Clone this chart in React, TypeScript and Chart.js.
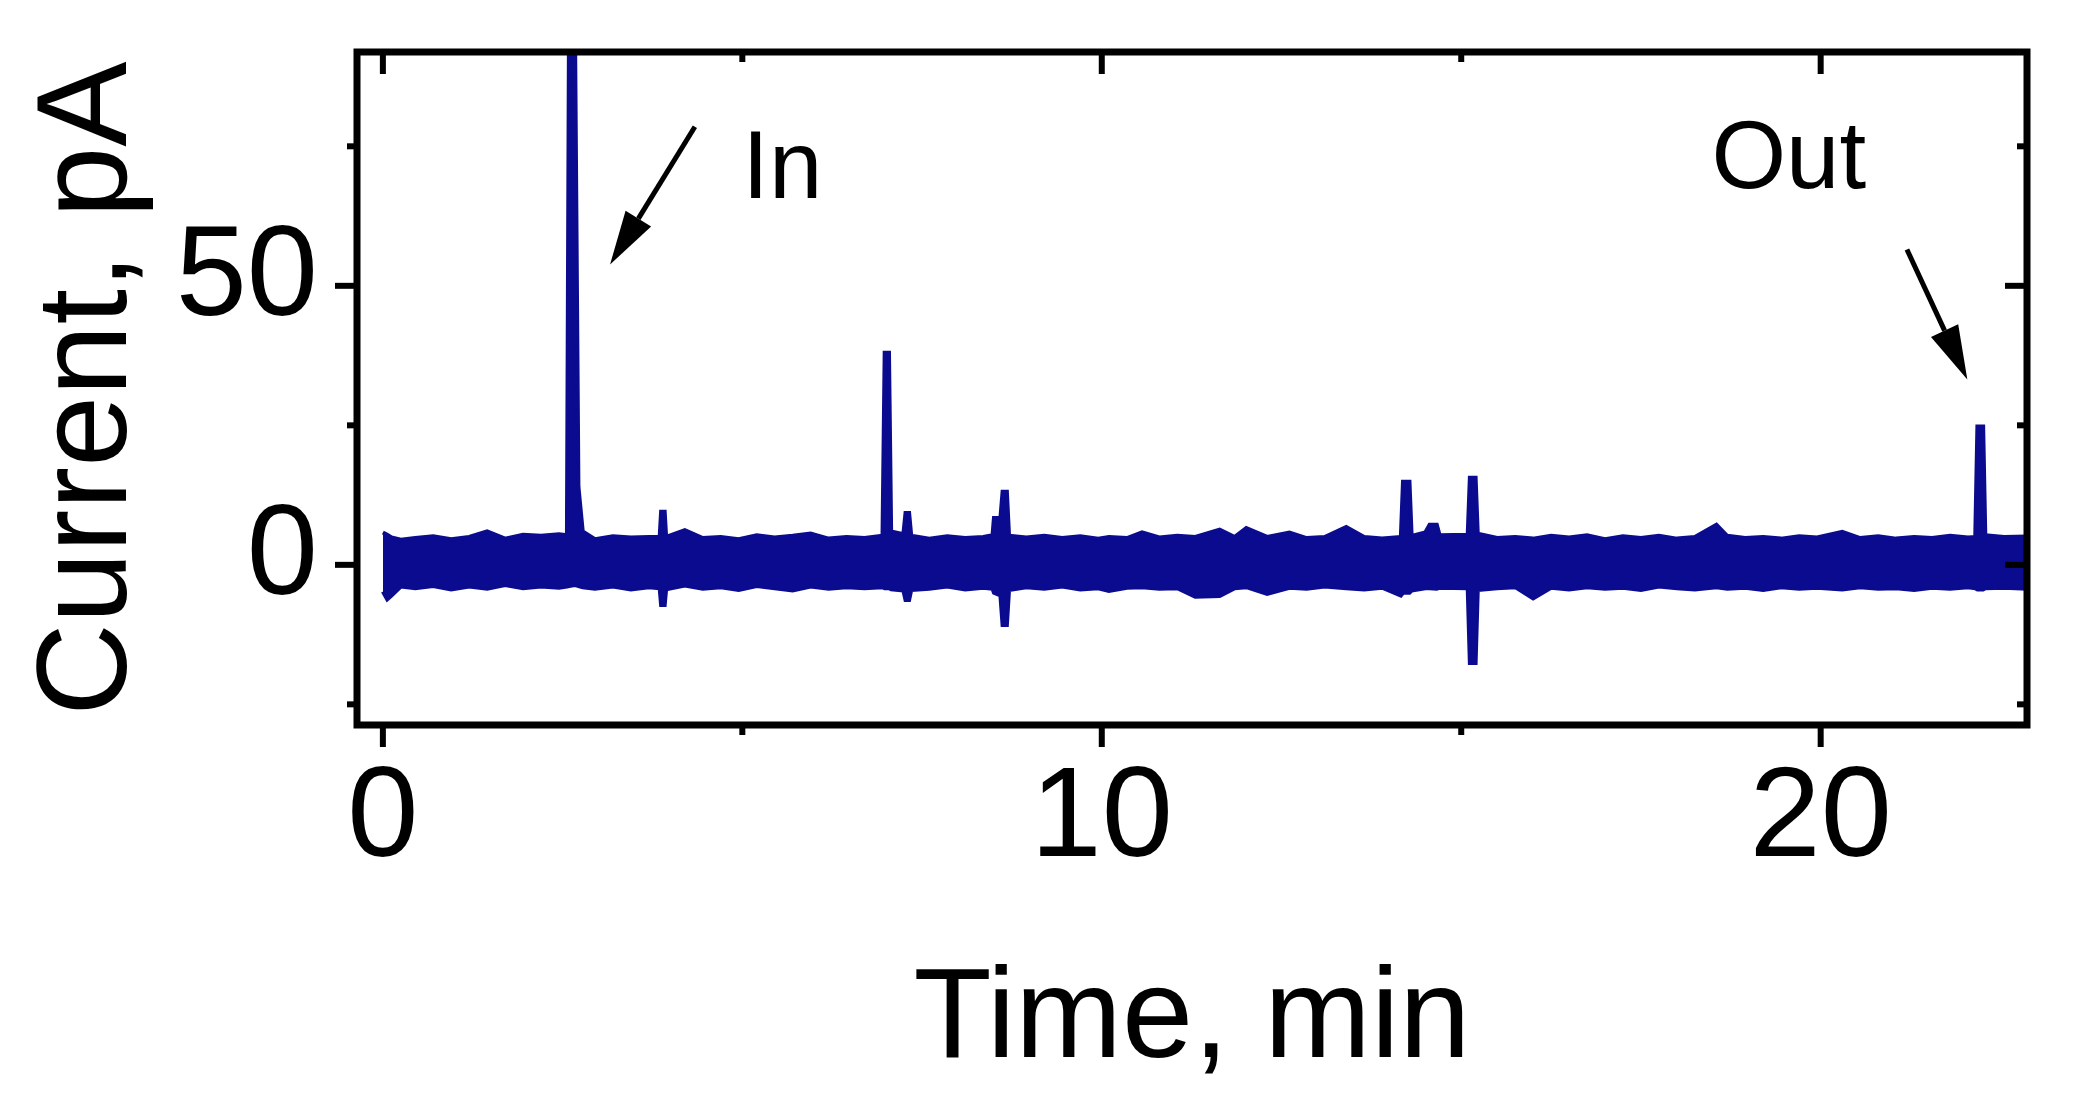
import React, { useEffect, useRef } from "react";
import { Chart, registerables } from "chart.js";

Chart.register(...registerables);

// ---- data ----
// time in minutes, noise-band upper envelope and lower envelope in pA
const timeMin = [
  0.0, 0.06, 0.12, 0.25, 0.45, 0.7, 0.95, 1.2, 1.45, 1.7, 1.95, 2.2, 2.45, 2.56, 2.59, 2.67, 2.72, 2.78,
  2.95, 3.2, 3.45, 3.7, 3.85, 3.87, 3.92, 3.94, 4.2, 4.45, 4.7, 4.95, 5.2, 5.45, 5.7, 5.95, 6.2, 6.45,
  6.7, 6.95, 6.98, 7.04, 7.07, 7.24, 7.27, 7.32, 7.35, 7.6, 7.85, 8.1, 8.35, 8.48, 8.5, 8.59, 8.62, 8.68,
  8.71, 8.95, 9.2, 9.45, 9.7, 9.95, 10.1, 10.35, 10.56, 10.8, 11.05, 11.3, 11.64, 11.85, 12.01, 12.3,
  12.61, 12.85, 13.1, 13.4, 13.65, 13.9, 14.16, 14.19, 14.28, 14.31, 14.5, 14.56, 14.66, 14.7, 15.09,
  15.12, 15.2, 15.23, 15.5, 15.75, 16.0, 16.25, 16.5, 16.75, 17.0, 17.25, 17.5, 17.75, 18.0, 18.25,
  18.55, 18.7, 18.95, 19.2, 19.45, 19.7, 19.95, 20.3, 20.55, 20.8, 21.05, 21.3, 21.55, 21.8, 22.05,
  22.15, 22.18, 22.26, 22.29, 22.55, 22.9,
];
const upperPA = [
  5.8, 5.4, 4.9, 4.5, 4.8, 5.1, 4.6, 5.0, 6.0, 4.7, 5.4, 5.2, 5.5, 5.3, 100, 100, 14, 6.0,
  4.6, 5.1, 4.9, 5.0, 5.0, 9.5, 9.5, 5.0, 6.2, 4.8, 5.0, 4.6, 5.3, 4.9, 5.2, 5.6, 4.7, 5.0,
  4.8, 5.2, 38, 38, 6.0, 5.5, 9.3, 9.3, 5.2, 4.7, 5.1, 4.8, 5.0, 5.3, 8.4, 8.4, 13.1, 13.1,
  5.2, 4.9, 5.2, 4.8, 5.1, 4.7, 5.0, 4.8, 5.8, 4.9, 5.2, 5.0, 6.3, 5.0, 6.6, 5.0,
  5.8, 4.8, 5.0, 6.8, 5.0, 4.7, 5.0, 14.9, 14.9, 5.2, 5.8, 7.2, 7.2, 5.3, 5.4,
  15.6, 15.6, 5.6, 4.8, 5.0, 4.7, 5.2, 4.9, 5.3, 4.6, 5.1, 4.8, 5.2, 4.7, 5.0,
  7.2, 5.2, 4.8, 5.0, 4.7, 5.1, 4.9, 5.9, 4.8, 5.1, 4.7, 5.0, 4.8, 5.2, 4.9,
  5.0, 24.8, 24.8, 5.3, 5.0, 5.1,
];
const lowerPA = [
  -4.8, -6.2, -5.5, -3.9, -4.2, -3.8, -4.4, -3.9, -4.3, -3.6, -4.2, -3.9, -4.1, -3.9, -3.8, -3.6, -3.8, -4.0,
  -4.3, -3.9, -4.4, -4.0, -4.2, -7.2, -7.2, -4.4, -3.7, -4.3, -4.0, -4.5, -3.8, -4.2, -4.6, -3.9, -4.3, -4.0,
  -4.2, -4.0, -4.2, -4.2, -4.4, -4.6, -6.3, -6.3, -4.5, -4.3, -3.9, -4.4, -4.1, -4.3, -5.0, -5.5, -10.8, -10.8,
  -4.5, -4.0, -4.3, -3.9, -4.4, -4.2, -4.7, -4.1, -4.0, -4.3, -4.2, -5.7, -5.6, -4.2, -4.0, -5.2,
  -4.1, -4.3, -3.9, -4.2, -4.4, -4.1, -5.5, -5.0, -5.0, -4.6, -4.2, -4.2, -4.3, -4.1, -4.2,
  -17.6, -17.6, -4.5, -4.2, -4.0, -6.0, -4.1, -4.4, -4.0, -4.3, -4.1, -4.5, -3.9, -4.2, -4.4,
  -4.0, -4.3, -4.1, -4.5, -4.0, -4.3, -4.1, -4.4, -4.0, -4.3, -4.2, -4.5, -4.1, -4.3, -4.0,
  -4.2, -4.4, -4.4, -4.2, -4.1, -4.3,
];

// axis ticks
const xMajorTicks = [0, 10, 20];
const xMinorTicks = [5, 15];
const yMajorTicks = [0, 50];
const yMinorTicks = [-25, 25, 75];
const xRange = [-0.36, 22.87];
const yRange = [-28.7, 91.9];

// annotations: label, text anchor (min, pA), arrow tail and tip (min, pA)
const annotLabels = ["In", "Out"];
const annotTextPos = [
  [5.0, 65.8],
  [18.48, 67.6],
];
const arrowTails = [
  [4.34, 78.5],
  [21.2, 56.5],
];
const arrowTips = [
  [3.16, 53.8],
  [22.04, 33.2],
];

const FONT = "'Liberation Sans', Arial, Helvetica, sans-serif";
const TRACE = "#0b0b8f";

const framePlugin = {
  id: "frameTicks",
  afterDatasetsDraw(chart: any) {
    const { ctx, chartArea: a, scales } = chart;
    const xs = scales.x;
    const ys = scales.y;
    ctx.save();
    ctx.strokeStyle = "#000";
    ctx.lineWidth = 7;
    ctx.strokeRect(a.left, a.top, a.right - a.left, a.bottom - a.top);
    ctx.lineWidth = 6;
    const seg = (x1: number, y1: number, x2: number, y2: number) => {
      ctx.beginPath();
      ctx.moveTo(x1, y1);
      ctx.lineTo(x2, y2);
      ctx.stroke();
    };
    const MAJ = 22;
    const MIN = 10;
    xMajorTicks.forEach((v) => {
      const p = xs.getPixelForValue(v);
      seg(p, a.bottom, p, a.bottom + MAJ);
      seg(p, a.top, p, a.top + MAJ);
    });
    xMinorTicks.forEach((v) => {
      const p = xs.getPixelForValue(v);
      seg(p, a.bottom, p, a.bottom + MIN);
      seg(p, a.top, p, a.top + MIN);
    });
    yMajorTicks.forEach((v) => {
      const p = ys.getPixelForValue(v);
      seg(a.left, p, a.left - MAJ, p);
      seg(a.right, p, a.right - MAJ, p);
    });
    yMinorTicks.forEach((v) => {
      const p = ys.getPixelForValue(v);
      seg(a.left, p, a.left - MIN, p);
      seg(a.right, p, a.right - MIN, p);
    });
    ctx.restore();
  },
  afterDraw(chart: any) {
    const { ctx, scales } = chart;
    const xs = scales.x;
    const ys = scales.y;
    ctx.save();
    ctx.fillStyle = "#000";
    ctx.strokeStyle = "#000";
    ctx.font = `96px ${FONT}`;
    ctx.textBaseline = "alphabetic";
    ctx.textAlign = "left";
    annotLabels.forEach((lab, i) => {
      ctx.fillText(lab, xs.getPixelForValue(annotTextPos[i][0]), ys.getPixelForValue(annotTextPos[i][1]));
      const x1 = xs.getPixelForValue(arrowTails[i][0]);
      const y1 = ys.getPixelForValue(arrowTails[i][1]);
      const x2 = xs.getPixelForValue(arrowTips[i][0]);
      const y2 = ys.getPixelForValue(arrowTips[i][1]);
      const ang = Math.atan2(y2 - y1, x2 - x1);
      const headLen = 54;
      const headHalf = 15;
      const bx = x2 - headLen * Math.cos(ang);
      const by = y2 - headLen * Math.sin(ang);
      ctx.lineWidth = 5;
      ctx.beginPath();
      ctx.moveTo(x1, y1);
      ctx.lineTo(bx, by);
      ctx.stroke();
      ctx.beginPath();
      ctx.moveTo(x2, y2);
      ctx.lineTo(bx + headHalf * Math.sin(ang), by - headHalf * Math.cos(ang));
      ctx.lineTo(bx - headHalf * Math.sin(ang), by + headHalf * Math.cos(ang));
      ctx.closePath();
      ctx.fill();
    });
    ctx.restore();
  },
};

export default function App() {
  const ref = useRef<HTMLCanvasElement | null>(null);
  useEffect(() => {
    if (!ref.current) return;
    const chart = new Chart(ref.current, {
      type: "line",
      data: {
        datasets: [
          {
            label: "upper",
            data: timeMin.map((t, i) => ({ x: t, y: upperPA[i] })),
            borderColor: TRACE,
            backgroundColor: TRACE,
            borderWidth: 4,
            pointRadius: 0,
            tension: 0,
            fill: "+1",
          },
          {
            label: "lower",
            data: timeMin.map((t, i) => ({ x: t, y: lowerPA[i] })),
            borderColor: TRACE,
            backgroundColor: TRACE,
            borderWidth: 4,
            pointRadius: 0,
            tension: 0,
            fill: false,
          },
        ],
      },
      options: {
        responsive: false,
        animation: false,
        devicePixelRatio: 1,
        layout: { padding: { left: 0, top: 52, right: 46, bottom: 0 } },
        plugins: { legend: { display: false }, tooltip: { enabled: false } },
        scales: {
          x: {
            type: "linear",
            min: xRange[0],
            max: xRange[1],
            grid: { display: false, drawTicks: false },
            border: { display: false },
            afterBuildTicks: (s: any) => {
              s.ticks = xMajorTicks.map((value) => ({ value }));
            },
            afterFit: (s: any) => {
              s.height = 1106 - 725;
              s.paddingLeft = 0;
              s.paddingRight = 0;
            },
            ticks: {
              color: "#000",
              font: { family: FONT, size: 128 },
              padding: 19,
              maxRotation: 0,
              autoSkip: false,
              includeBounds: false,
            },
            title: {
              display: true,
              text: "Time, min",
              color: "#000",
              font: { family: FONT, size: 128 },
              padding: { top: 0, bottom: 7 },
            },
          },
          y: {
            type: "linear",
            min: yRange[0],
            max: yRange[1],
            grid: { display: false, drawTicks: false },
            border: { display: false },
            afterBuildTicks: (s: any) => {
              s.ticks = yMajorTicks.map((value) => ({ value }));
            },
            afterFit: (s: any) => {
              s.width = 357;
              s.paddingTop = 0;
              s.paddingBottom = 0;
            },
            ticks: {
              color: "#000",
              font: { family: FONT, size: 128 },
              padding: 39,
              labelOffset: -6,
              autoSkip: false,
              includeBounds: false,
            },
            title: {
              display: true,
              text: "Current, pA",
              color: "#000",
              font: { family: FONT, size: 128 },
              padding: { top: 14, bottom: 0 },
            },
          },
        },
      },
      plugins: [framePlugin],
    } as any);
    return () => chart.destroy();
  }, []);
  return (
    <div style={{ position: "absolute", left: 0, top: 0, width: 2073, height: 1106, background: "#fff" }}>
      <canvas ref={ref} width={2073} height={1106} style={{ width: 2073, height: 1106, display: "block" }} />
    </div>
  );
}
